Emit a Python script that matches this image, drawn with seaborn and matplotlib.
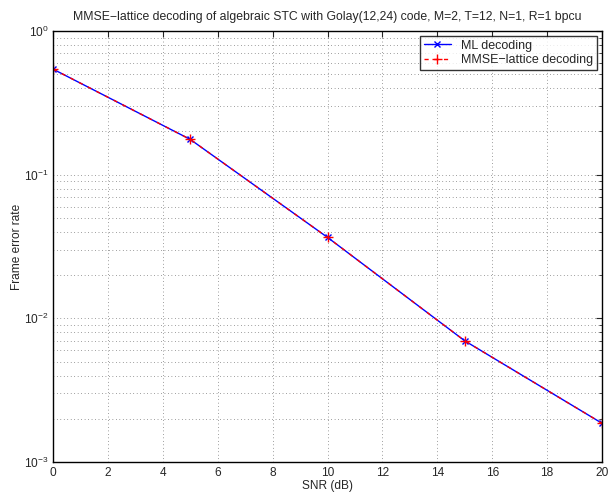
import matplotlib
matplotlib.use("Agg")
import matplotlib.pyplot as plt
import seaborn as sns
import numpy as np
from matplotlib.ticker import LogLocator, NullFormatter

snr_db = [0, 5, 10, 15, 20]
fer_ml = [0.543, 0.176, 0.0366, 0.00697, 0.00186]
fer_mmse = [0.543, 0.176, 0.0366, 0.00697, 0.00186]
x_ticks = [0, 2, 4, 6, 8, 10, 12, 14, 16, 18, 20]

sns.set_style("white")
plt.rcParams['font.family'] = ['Liberation Sans', 'DejaVu Sans']

fig = plt.figure(figsize=(6.1, 4.97), dpi=100)
ax = fig.add_axes([0.0869, 0.0704, 0.9001, 0.8672])

sns.lineplot(x=snr_db, y=fer_ml, ax=ax, color='blue', linewidth=1.0,
             marker='x', markersize=5, markeredgewidth=1.0,
             markeredgecolor='blue', markerfacecolor='blue', label='ML decoding')
sns.lineplot(x=snr_db, y=fer_mmse, ax=ax, color='red', linewidth=1.0,
             linestyle=(0, (3, 4)), marker='+', markersize=7, markeredgewidth=1.0,
             markeredgecolor='red', markerfacecolor='red',
             label='MMSE\u2212lattice decoding')

ax.set_yscale('log')
ax.set_xlim(0, 20)
ax.set_ylim(1e-3, 1)
ax.set_xticks(x_ticks)
ax.set_xticklabels([str(t) for t in x_ticks])
ax.yaxis.set_major_locator(LogLocator(base=10, numticks=10))
ax.yaxis.set_minor_locator(LogLocator(base=10, subs=np.arange(2, 10), numticks=20))
ax.yaxis.set_minor_formatter(NullFormatter())

gridstyle = dict(linestyle=(0, (1, 4)), color='#444444', linewidth=0.5)
ax.grid(True, which='major', **gridstyle)
ax.grid(True, which='minor', axis='y', **gridstyle)

ax.tick_params(which='both', direction='in', top=True, right=True, labelsize=8.6)
ax.tick_params(axis='y', pad=3)
ax.tick_params(which='major', length=4, width=0.8)
ax.tick_params(which='minor', length=2, width=0.6)
for s in ax.spines.values():
    s.set_color('black')
    s.set_linewidth(1.0)

ax.set_xlabel('SNR (dB)', fontsize=8.6, labelpad=1)
ax.set_ylabel('Frame error rate', fontsize=8.6, labelpad=1)
ax.set_title('MMSE\u2212lattice decoding of algebraic STC with Golay(12,24) code, M=2, T=12, N=1, R=1 bpcu',
             fontsize=8.8, pad=8)

leg = ax.legend(loc='upper right', fontsize=9, frameon=True, fancybox=False,
                edgecolor='black', borderpad=0.3, labelspacing=0.2,
                handlelength=2.2, borderaxespad=0.4)
leg.get_frame().set_linewidth(1.0)

fig.savefig('out.png', dpi=100)
